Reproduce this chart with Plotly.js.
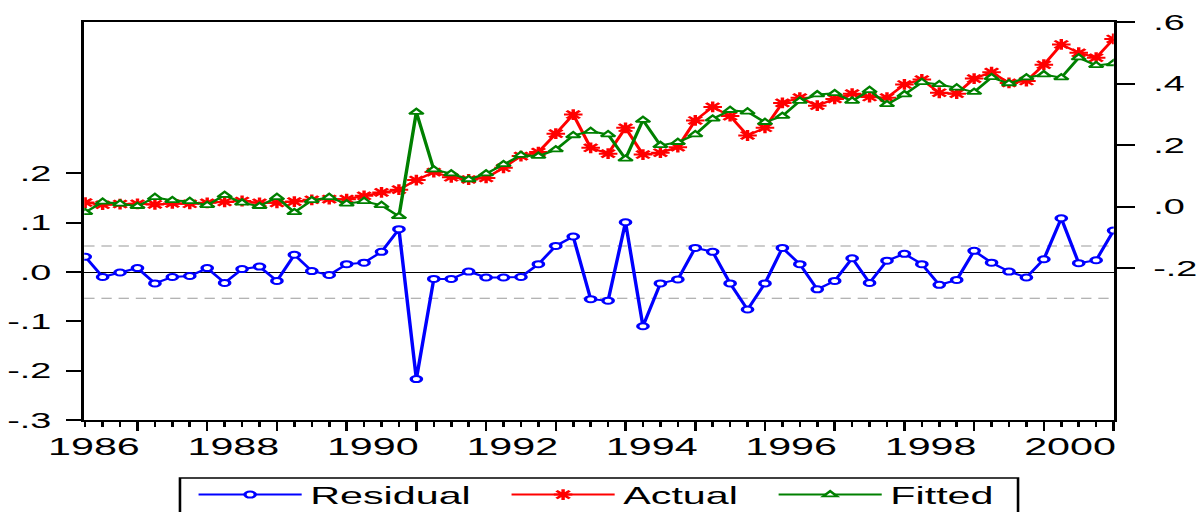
<!DOCTYPE html>
<html>
<head>
<meta charset="utf-8">
<script src="https://cdn.plot.ly/plotly-3.0.1.min.js"></script>
<style>
  html, body { margin: 0; padding: 0; background: #ffffff; overflow: hidden; }
  #chart { width: 697px; height: 512px; transform: scaleX(1.71880); transform-origin: 0 0; }
</style>
</head>
<body>
<div id="chart"></div>
<script>
// Quarterly sample 1986Q1 - 2000Q4
const startYear = 1986;
const seriesNames = ['Residual', 'Actual', 'Fitted'];

const residual = [
  0.031, -0.010, -0.001, 0.008, -0.023, -0.010, -0.008, 0.008, -0.022, 0.006,
  0.011, -0.018, 0.035, 0.002, -0.006, 0.016, 0.019, 0.041, 0.087, -0.217,
  -0.014, -0.014, 0.001, -0.011, -0.011, -0.010, 0.016, 0.053, 0.072, -0.055,
  -0.058, 0.101, -0.110, -0.023, -0.015, 0.049, 0.041, -0.023, -0.076, -0.023,
  0.049, 0.016, -0.035, -0.018, 0.028, -0.022, 0.023, 0.037, 0.016, -0.026,
  -0.016, 0.043, 0.019, 0.001, -0.011, 0.026, 0.109, 0.018, 0.024, 0.084
];

const actual = [
  0.013, 0.006, 0.008, 0.009, 0.007, 0.010, 0.009, 0.012, 0.015, 0.018,
  0.012, 0.012, 0.016, 0.022, 0.024, 0.024, 0.035, 0.046, 0.055, 0.086,
  0.112, 0.095, 0.088, 0.093, 0.126, 0.164, 0.177, 0.237, 0.299, 0.191,
  0.172, 0.256, 0.169, 0.175, 0.193, 0.280, 0.324, 0.294, 0.231, 0.256,
  0.337, 0.354, 0.328, 0.350, 0.367, 0.356, 0.354, 0.397, 0.413, 0.370,
  0.367, 0.416, 0.437, 0.402, 0.408, 0.461, 0.527, 0.500, 0.484, 0.545
];

const fitted = [
  -0.019, 0.015, 0.009, 0.001, 0.030, 0.020, 0.017, 0.004, 0.037, 0.012,
  0.001, 0.030, -0.019, 0.020, 0.030, 0.009, 0.017, 0.004, -0.032, 0.307,
  0.120, 0.107, 0.088, 0.107, 0.137, 0.167, 0.164, 0.185, 0.231, 0.245,
  0.234, 0.155, 0.281, 0.199, 0.209, 0.234, 0.285, 0.313, 0.308, 0.274,
  0.294, 0.343, 0.364, 0.368, 0.343, 0.378, 0.332, 0.364, 0.404, 0.397,
  0.386, 0.372, 0.420, 0.400, 0.419, 0.429, 0.419, 0.484, 0.459, 0.465
];

const residualSE = 0.053;

const yearLabels = ['1986', '1988', '1990', '1992', '1994', '1996', '1998', '2000'];
const leftTickVals = [-0.3, -0.2, -0.1, 0.0, 0.1, 0.2];
const leftTickText = ['-.3', '-.2', '-.1', '.0', '.1', '.2'];
const rightTickVals = [-0.2, 0.0, 0.2, 0.4, 0.6];
const rightTickText = ['-.2', '.0', '.2', '.4', '.6'];

// ---- derived positions ----
const xDates = residual.map((_, i) => startYear + i / 4);
const lastX = xDates[xDates.length - 1];
const majorTicks = [];
for (let v = startYear + 0.75; v <= lastX + 1e-9; v += 1) majorTicks.push(v);
const labelPos = yearLabels.map(s => Number(s) + 0.125);
const xRange = [startYear - 0.014, lastX + 0.003];

const FONT = 'Liberation Sans, Arial, Helvetica, sans-serif';
const BLUE = '#0000ff', RED = '#ff0000', GREEN = '#008000';

const traces = [
  {
    x: xDates, y: residual, name: seriesNames[0], type: 'scatter', mode: 'lines+markers',
    xaxis: 'x', yaxis: 'y', legend: 'legend',
    line: { color: BLUE, width: 2 },
    marker: { symbol: 'circle', size: 6, color: '#ffffff', line: { color: BLUE, width: 2 } }
  },
  {
    x: xDates, y: actual, name: seriesNames[1], type: 'scatter', mode: 'lines+markers',
    xaxis: 'x', yaxis: 'y2', legend: 'legend2',
    line: { color: RED, width: 2 },
    marker: { symbol: 'asterisk-open', size: 9, color: RED, line: { color: RED, width: 2 } }
  },
  {
    x: xDates, y: fitted, name: seriesNames[2], type: 'scatter', mode: 'lines+markers',
    xaxis: 'x', yaxis: 'y2', legend: 'legend3',
    line: { color: GREEN, width: 2 },
    marker: { symbol: 'triangle-up', size: 7, color: '#ffffff', line: { color: GREEN, width: 1.8 } }
  },
  {
    x: labelPos, y: labelPos.map(() => null), xaxis: 'x2', yaxis: 'y',
    type: 'scatter', mode: 'markers', showlegend: false, hoverinfo: 'skip'
  }
];

function legendAt(xFrac) {
  return {
    orientation: 'h', x: xFrac, y: -0.1319, xanchor: 'left', yanchor: 'top',
    bgcolor: 'rgba(0,0,0,0)', borderwidth: 0,
    font: { family: FONT, size: 24, color: '#000000' },
    itemwidth: 60
  };
}

const layout = {
  width: 697, height: 512,
  margin: { l: 49, r: 49, t: 22, b: 92, autoexpand: false },
  paper_bgcolor: '#ffffff', plot_bgcolor: '#ffffff',
  showlegend: true,
  font: { family: FONT, color: '#000000' },
  xaxis: {
    range: xRange, showgrid: false, zeroline: false,
    showline: true, linewidth: 2, linecolor: '#000000', mirror: true,
    tickmode: 'array', tickvals: majorTicks, ticks: 'outside', ticklen: 9, tickwidth: 1.5, tickcolor: '#000000',
    showticklabels: false,
    minor: { ticks: 'outside', tick0: startYear, dtick: 0.25, ticklen: 5, tickwidth: 1.5, tickcolor: '#000000', showgrid: false }
  },
  xaxis2: {
    overlaying: 'x', anchor: 'y', side: 'bottom', range: xRange,
    showgrid: false, zeroline: false, showline: false,
    tickmode: 'array', tickvals: labelPos, ticktext: yearLabels, ticks: '',
    ticklabelstandoff: 10,
    tickfont: { family: FONT, size: 24, color: '#000000' }
  },
  yaxis: {
    range: [-0.3, 0.507], showgrid: false,
    zeroline: true, zerolinecolor: '#000000', zerolinewidth: 1,
    showline: true, linewidth: 2, linecolor: '#000000',
    tickmode: 'array', tickvals: leftTickVals, ticktext: leftTickText,
    ticks: 'outside', ticklen: 8.7, tickwidth: 2, tickcolor: '#000000',
    ticklabelstandoff: 4,
    tickfont: { family: FONT, size: 22, color: '#000000' }
  },
  yaxis2: {
    overlaying: 'y', side: 'right', anchor: 'x',
    range: [-0.694, 0.6], showgrid: false, zeroline: false,
    showline: true, linewidth: 2, linecolor: '#000000',
    tickmode: 'array', tickvals: rightTickVals, ticktext: rightTickText,
    ticks: 'outside', ticklen: 10.5, tickwidth: 2, tickcolor: '#000000',
    ticklabelstandoff: 6,
    tickfont: { family: FONT, size: 22, color: '#000000' }
  },
  shapes: [
    { type: 'line', xref: 'paper', x0: 0, x1: 1, yref: 'y', y0: residualSE, y1: residualSE, layer: 'below',
      line: { color: '#9a9a9a', width: 1, dash: '6px,4px' } },
    { type: 'line', xref: 'paper', x0: 0, x1: 1, yref: 'y', y0: -residualSE, y1: -residualSE, layer: 'below',
      line: { color: '#9a9a9a', width: 1, dash: '6px,4px' } },
    // legend frame
    { type: 'rect', xref: 'paper', yref: 'paper', x0: 0.093, x1: 0.907, y0: -0.1457, y1: -0.30,
      line: { color: '#000000', width: 1.5 }, fillcolor: 'rgba(0,0,0,0)', layer: 'above' }
  ],
  legend: legendAt(0.1027),
  legend2: legendAt(0.4067),
  legend3: legendAt(0.6661)
};

Plotly.newPlot('chart', traces, layout, { staticPlot: true, displayModeBar: false });
</script>
</body>
</html>
